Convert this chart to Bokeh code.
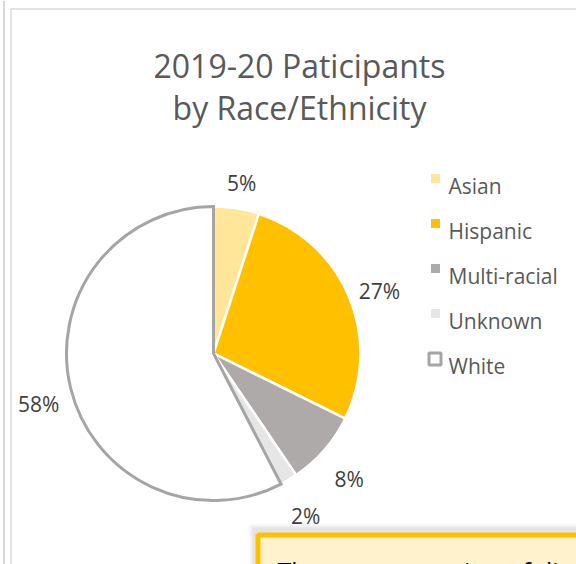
import numpy as np
from bokeh.plotting import figure
from bokeh.models import Range1d
from bokeh.core.properties import value
from bokeh.embed import file_html
from bokeh.resources import INLINE

# ---- data ----
categories = ["Asian", "Hispanic", "Multi-racial", "Unknown", "White"]
percents = [5.0, 27.3, 8.2, 1.9, 57.6]
pct_labels = ["5%", "27%", "8%", "2%", "58%"]
colors = ["#FFE699", "#FFC000", "#AEAAAA", "#E7E6E6", "#FFFFFF"]
title_lines = ["2019-20 Paticipants", "by Race/Ethnicity"]
note_text = "The representation of div"

FONT = value("Open Sans")
W, H = 576, 564

def sy(y):
    # screen y (from top) -> data y
    return H - y

p = figure(width=W, height=H, output_backend="svg", toolbar_location=None,
           x_range=Range1d(0, W), y_range=Range1d(0, H),
           min_border=0, outline_line_color=None, background_fill_color="white",
           border_fill_color="white")
p.axis.visible = False
p.grid.visible = False

# neighbouring frame edge and chart frame border
p.segment(x0=[3.5], y0=[sy(0)], x1=[3.5], y1=[sy(H)], line_color="#D9D9D9", line_width=2)
p.quad(left=[10.5], right=[700], top=[sy(8.5)], bottom=[sy(700)], fill_color=None,
       line_color="#D9D9D9", line_width=1.5)

# title
p.text(x=[299, 299], y=[sy(65), sy(107)], text=title_lines, text_font=FONT,
       text_font_size="32px", text_color="#595959", text_align="center",
       text_baseline="alphabetic")

# pie
cx, cy, r = 213, sy(353), 147
vals = np.array(percents, dtype=float)
frac = vals / vals.sum()
cum_end = np.cumsum(frac)
cum_start = cum_end - frac
start = np.pi / 2 - 2 * np.pi * cum_start
end = np.pi / 2 - 2 * np.pi * cum_end
mid = (start + end) / 2

line_cols = ["white"] * 4 + ["#A5A5A5"]
line_ws = [2.5] * 4 + [3]
for idx in range(len(categories)):
    p.wedge(x=cx, y=cy, radius=r, start_angle=start[idx], end_angle=end[idx],
            direction="clock", fill_color=colors[idx], line_color=line_cols[idx],
            line_width=line_ws[idx], line_join="miter")

# data labels (cap-centre on a ring outside the pie)
lr = 180
lx = cx + lr * np.cos(mid)
ly = cy + lr * np.sin(mid) - 7.5
p.text(x=lx, y=ly, text=pct_labels, text_font=FONT, text_font_size="21px",
       text_color="#404040", text_align="center", text_baseline="alphabetic")

# legend
n = len(categories)
leg_base = np.array([185 + 45 * i for i in range(n)], dtype=float)
leg_y = sy(leg_base)
p.scatter(x=[435] * (n - 1), y=leg_y[:n - 1] + 7, marker="square", size=9,
          fill_color=colors[:n - 1], line_color=None)
p.scatter(x=[434.5], y=[leg_y[n - 1] + 6.5], marker="square", size=12,
          fill_color=colors[n - 1], line_color="#A5A5A5", line_width=3)
p.text(x=[448] * n, y=leg_y, text=categories, text_font=FONT,
       text_font_size="21px", text_color="#595959", text_align="left",
       text_baseline="alphabetic")

# note box (only its top edge is inside the picture)
for m, a in [(7, 0.05), (5, 0.07), (3, 0.1)]:
    p.quad(left=[255 - m], right=[700], top=[sy(530 - m)], bottom=[sy(700)],
           fill_color="#808080", fill_alpha=a, line_color=None)
p.quad(left=[257.5], right=[700], top=[sy(534.5)], bottom=[sy(700)],
       fill_color="#FFF2CC", line_color="#FFC000", line_width=5)
p.text(x=[277], y=[sy(570)], text=[note_text], text_font=FONT,
       text_font_size="25px", text_color="#000000", text_align="left",
       text_baseline="alphabetic")

open("out.html", "w").write(file_html(p, INLINE))
